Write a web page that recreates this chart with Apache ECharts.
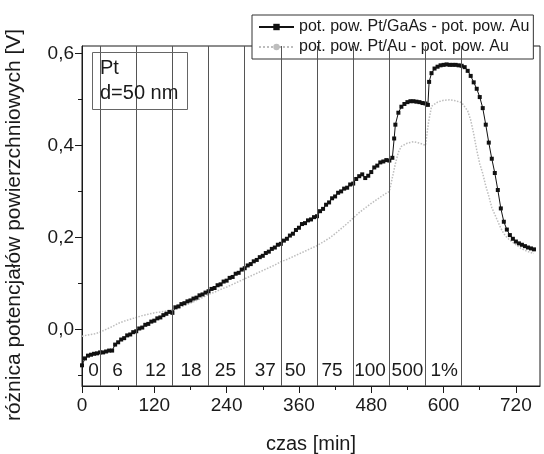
<!DOCTYPE html>
<html><head><meta charset="utf-8">
<script src="https://cdn.jsdelivr.net/npm/echarts@6/dist/echarts.min.js"></script>
<style>html,body{margin:0;padding:0;background:#fff}#c{width:544px;height:454px}</style>
</head><body><div id="c"></div>
<script>
// --- data ---
const seriesNameA = 'pot. pow. Pt/GaAs - pot. pow. Au';
const seriesNameB = 'pot. pow. Pt/Au - pot. pow. Au';

const timeA = [
  0,5,10,15,20,25,30,35,40,45,
  50,55,60,65,70,75,80,85,90,95,
  100,105,110,115,120,125,130,135,140,145,
  150,155,160,165,170,175,180,185,190,195,
  200,205,210,215,220,225,230,235,240,245,
  250,255,260,265,270,275,280,285,290,295,
  300,305,310,315,320,325,330,335,340,345,
  350,355,360,365,370,375,380,385,390,395,
  400,405,410,415,420,425,430,435,440,445,
  450,455,460,465,470,475,480,485,490,495,
  500,505,510,515,518,520,525,530,535,540,
  545,550,555,560,565,570,574,576,580,585,
  590,595,600,605,610,615,620,625,630,635,
  640,645,650,655,660,665,670,675,680,685,
  690,695,700,705,710,715,720,725,730,735,
  740,745,750
];
const potA = [
  -0.078,-0.063,-0.057,-0.055,-0.053,-0.052,-0.050,-0.050,-0.048,-0.046,
  -0.046,-0.033,-0.028,-0.022,-0.019,-0.013,-0.011,-0.006,-0.004,0.002,
  0.004,0.010,0.012,0.017,0.019,0.024,0.026,0.031,0.034,0.038,
  0.036,0.048,0.050,0.055,0.057,0.061,0.063,0.067,0.069,0.074,
  0.076,0.080,0.083,0.088,0.090,0.096,0.098,0.104,0.106,0.112,
  0.114,0.121,0.123,0.130,0.133,0.139,0.142,0.148,0.151,0.157,
  0.160,0.166,0.169,0.175,0.178,0.184,0.186,0.193,0.197,0.204,
  0.208,0.216,0.221,0.229,0.231,0.237,0.239,0.244,0.246,0.257,
  0.262,0.271,0.276,0.285,0.289,0.297,0.300,0.306,0.308,0.315,
  0.317,0.327,0.333,0.337,0.329,0.334,0.342,0.352,0.356,0.363,
  0.365,0.368,0.367,0.373,0.415,0.445,0.471,0.484,0.490,0.494,
  0.496,0.496,0.495,0.494,0.492,0.491,0.488,0.538,0.557,0.567,
  0.571,0.574,0.575,0.576,0.575,0.575,0.575,0.574,0.573,0.570,
  0.562,0.551,0.537,0.523,0.505,0.481,0.445,0.406,0.371,0.340,
  0.303,0.263,0.234,0.217,0.205,0.197,0.191,0.187,0.184,0.181,
  0.178,0.176,0.174
];

const timeB = [
  0,10,20,30,40,50,60,70,80,90,
  100,110,120,130,140,150,160,170,180,190,
  200,210,220,230,240,250,260,270,280,290,
  300,310,320,330,340,350,360,370,380,390,
  400,410,420,430,440,450,460,470,480,490,
  500,505,510,515,520,525,530,540,550,560,
  570,575,580,590,600,610,620,630,640,645,
  650,655,660,665,670,675,680,685,690,695,
  700,705,710,720,730,740,750
];
const potB = [
  -0.015,-0.012,-0.010,-0.006,0.000,0.006,0.013,0.018,0.022,0.026,
  0.030,0.033,0.036,0.038,0.040,0.042,0.046,0.052,0.057,0.063,
  0.069,0.076,0.081,0.087,0.092,0.098,0.104,0.110,0.116,0.122,
  0.128,0.134,0.140,0.147,0.152,0.158,0.164,0.170,0.176,0.182,
  0.190,0.198,0.208,0.219,0.230,0.242,0.254,0.264,0.274,0.283,
  0.292,0.296,0.300,0.330,0.360,0.385,0.398,0.405,0.408,0.405,
  0.400,0.450,0.485,0.494,0.498,0.499,0.497,0.493,0.475,0.455,
  0.425,0.390,0.360,0.339,0.312,0.290,0.265,0.250,0.235,0.220,
  0.208,0.200,0.194,0.184,0.175,0.169,0.165
];

// stage boundaries (min) and stage labels
const stageBoundaries = [30,90,150,210,270,330,390,450,510,570,630];
const stageLabels = ['0','6','12','18','25','37','50','75','100','500','1%'];
const stageLabelTime = [19,59,122,181,238,304,354,415,478,540,601];
const stageLabelLevel = -0.09;

const xMajorTicks = [0,120,240,360,480,600,720];
const xMinorTicks = [60,180,300,420,540,660];
const yMajorTicks = [0,0.2,0.4,0.6];
const yMinorTicks = [-0.1,0.1,0.3,0.5];

// --- chart ---
const font = '"Liberation Sans", Arial, Helvetica, sans-serif';
const ink = '#1a1a1a';
const chart = echarts.init(document.getElementById('c'), null, {renderer:'canvas'});

const dataA = timeA.map((t,i)=>[t,potA[i]]);
const dataB = timeB.map((t,i)=>[t,potB[i]]);
const labelData = stageLabels.map((s,i)=>({name:s, value:[stageLabelTime[i], stageLabelLevel]}));

const xRange = {min:0, max:760};
const yRange = {min:-0.123, max:0.616};

const option = {
  animation:false,
  backgroundColor:'#fff',
  textStyle:{fontFamily:font},
  grid:{left:82, top:46, right:4, bottom:68, outerBoundsMode:'none', containLabel:false,
        show:true, borderColor:ink, borderWidth:1, backgroundColor:'transparent'},
  title:{
    text:'Pt\nd=50 nm', left:92, top:52, padding:[4,9,4,8],
    borderColor:'#666', borderWidth:1,
    textStyle:{fontFamily:font, fontSize:20, fontWeight:'normal', color:ink, lineHeight:25}
  },
  legend:{
    data:[seriesNameA, seriesNameB],
    orient:'vertical', left:252, top:15,
    itemWidth:35, itemHeight:8, itemGap:4,
    padding:[4,4,4,6],
    borderColor:'#333', borderWidth:1, backgroundColor:'#fff',
    textStyle:{fontFamily:font, fontSize:16, color:ink}
  },
  xAxis:[
    {
      type:'value', ...xRange, position:'bottom',
      name:'czas [min]', nameLocation:'middle', nameGap:48,
      nameTextStyle:{fontFamily:font, fontSize:20, color:ink},
      axisLine:{show:true, onZero:false, lineStyle:{color:ink, width:1}},
      axisTick:{show:true, customValues:xMajorTicks, length:7, lineStyle:{color:ink}},
      axisLabel:{customValues:xMajorTicks, fontSize:19, color:ink, fontFamily:font, margin:10},
      splitLine:{show:false}
    },
    {
      type:'value', ...xRange, position:'bottom',
      axisLine:{show:false, onZero:false},
      axisTick:{show:true, customValues:xMinorTicks, length:4, lineStyle:{color:ink}},
      axisLabel:{show:false}, splitLine:{show:false}
    }
  ],
  yAxis:[
    {
      type:'value', ...yRange, position:'left',
      name:'różnica potencjałów powierzchniowych [V]', nameLocation:'middle', nameGap:57, nameRotate:90,
      nameTextStyle:{fontFamily:font, fontSize:21, color:ink, padding:[0,18,0,0]},
      axisLine:{show:true, onZero:false, lineStyle:{color:ink, width:1}},
      axisTick:{show:true, customValues:yMajorTicks, length:7, lineStyle:{color:ink}},
      axisLabel:{customValues:yMajorTicks, fontSize:19, color:ink, fontFamily:font, margin:8,
        formatter:v=>v.toFixed(1).replace('.',',')},
      splitLine:{show:false}
    },
    {
      type:'value', ...yRange, position:'left',
      axisLine:{show:false, onZero:false},
      axisTick:{show:true, customValues:yMinorTicks, length:4, lineStyle:{color:ink}},
      axisLabel:{show:false}, splitLine:{show:false}
    }
  ],
  series:[
    {
      name:'stages', type:'scatter', data:labelData, symbolSize:0, silent:true,
      itemStyle:{opacity:1},
      label:{show:true, position:'inside', formatter:p=>p.name, fontFamily:font, fontSize:19, color:ink},
      markLine:{
        silent:true, symbol:['none','none'], label:{show:false},
        lineStyle:{color:'#555', width:1, type:'solid', opacity:1},
        emphasis:{disabled:true},
        data:stageBoundaries.map(t=>({xAxis:t}))
      },
      z:1
    },
    {
      name:seriesNameB, type:'line', data:dataB, showSymbol:false, symbol:'circle', symbolSize:2,
      lineStyle:{color:'#bdbdbd', width:1.5, type:'dotted'}, itemStyle:{color:'#bdbdbd'}, z:2
    },
    {
      name:seriesNameA, type:'line', data:dataA, symbol:'rect', symbolSize:4, showSymbol:true,
      lineStyle:{color:'#111', width:1}, itemStyle:{color:'#111'}, z:3
    }
  ]
};
chart.setOption(option);
</script>
</body></html>
